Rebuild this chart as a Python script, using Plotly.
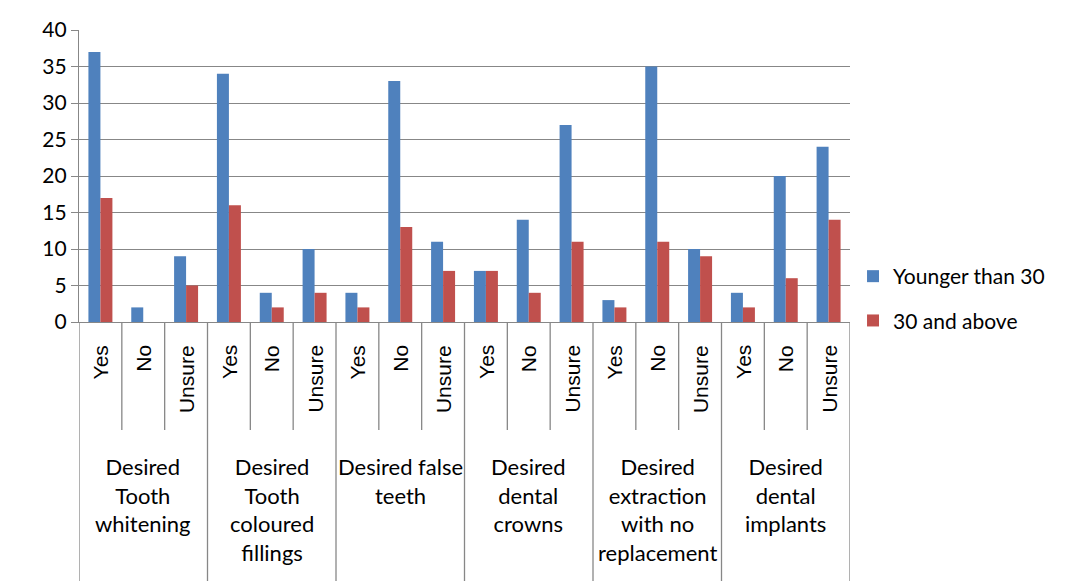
import plotly.graph_objects as go

# survey data
groups = [
    "Desired<br>Tooth<br>whitening",
    "Desired<br>Tooth<br>coloured<br>fillings",
    "Desired false<br>teeth",
    "Desired<br>dental<br>crowns",
    "Desired<br>extraction<br>with no<br>replacement",
    "Desired<br>dental<br>implants",
]
answers = ["Yes", "No", "Unsure"]
younger = [37, 2, 9, 34, 4, 10, 4, 33, 11, 7, 14, 27, 3, 35, 10, 4, 20, 24]
older = [17, 0, 5, 16, 2, 4, 2, 13, 7, 7, 4, 11, 2, 11, 9, 2, 6, 14]
series_names = ["Younger than 30", "30 and above"]
y_ticks = [0, 5, 10, 15, 20, 25, 30, 35, 40]

BLUE = "#4F81BD"
RED = "#C0504D"
GRID = "#878787"
TEXT_FONT = "Lato"

# page body has an 8px margin, so the figure is a bit smaller than the window
W, H = 1064, 573
L, R, T, B = 71, 222, 22, 259
plot_h = H - T - B

n = len(groups) * len(answers)
xs = list(range(n))

fig = go.Figure()
fig.add_trace(go.Bar(x=xs, y=younger, name=series_names[0], marker_color=BLUE,
                     marker_line_width=0, legendgroup="a"))
fig.add_trace(go.Bar(x=xs, y=older, name=series_names[1], marker_color=RED,
                     marker_line_width=0, legendgroup="b"))


def py(px_below):
    # paper y for a pixel offset below the x axis
    return -px_below / plot_h


shapes = []
# category separators under the axis
for i in range(n + 1):
    bound = i - 0.5
    if i % 3 == 0:
        y0 = py(B + 5)
    else:
        y0 = py(108)
    shapes.append(dict(type="line", xref="x", yref="paper",
                       x0=bound, x1=bound, y0=y0, y1=0,
                       line=dict(color=GRID, width=1.3)))

annotations = []
for i in range(n):
    annotations.append(dict(x=i, y=py(21), xref="x", yref="paper",
                            text=answers[i % 3], textangle=-90, showarrow=False,
                            xanchor="center", yanchor="top",
                            font=dict(family="Liberation Sans", size=21, color="#000")))
for g, label in enumerate(groups):
    annotations.append(dict(x=g * 3 + 1, y=py(129), xref="x", yref="paper",
                            text=label, showarrow=False,
                            xanchor="center", yanchor="top",
                            font=dict(family=TEXT_FONT, size=22, color="#000")))

fig.update_layout(
    width=W, height=H,
    margin=dict(l=L, r=R, t=T, b=B, autoexpand=False),
    paper_bgcolor="white",
    plot_bgcolor="white",
    barmode="group",
    bargap=0.44,
    bargroupgap=0,
    font=dict(family=TEXT_FONT, size=21, color="#000"),
    shapes=shapes,
    annotations=annotations,
    legend=dict(xref="container", yref="container", x=0.7942, y=0.493,
                xanchor="left", yanchor="middle", tracegroupgap=14,
                font=dict(family=TEXT_FONT, size=21, color="#000"),
                bgcolor="rgba(0,0,0,0)"),
    showlegend=True,
)
fig.update_xaxes(range=[-0.5, n - 0.5], showticklabels=False, ticks="",
                 showgrid=False, zeroline=False,
                 showline=True, linecolor=GRID, linewidth=1.3)
fig.update_yaxes(range=[0, 40], tickvals=y_ticks, showgrid=True,
                 gridcolor=GRID, gridwidth=1.3, zeroline=False,
                 showline=True, linecolor=GRID, linewidth=1.3,
                 ticks="outside", ticklen=7, tickcolor=GRID, tickwidth=1.3,
                 tickfont=dict(family=TEXT_FONT, size=21, color="#000"))

fig.write_html("out.html")
